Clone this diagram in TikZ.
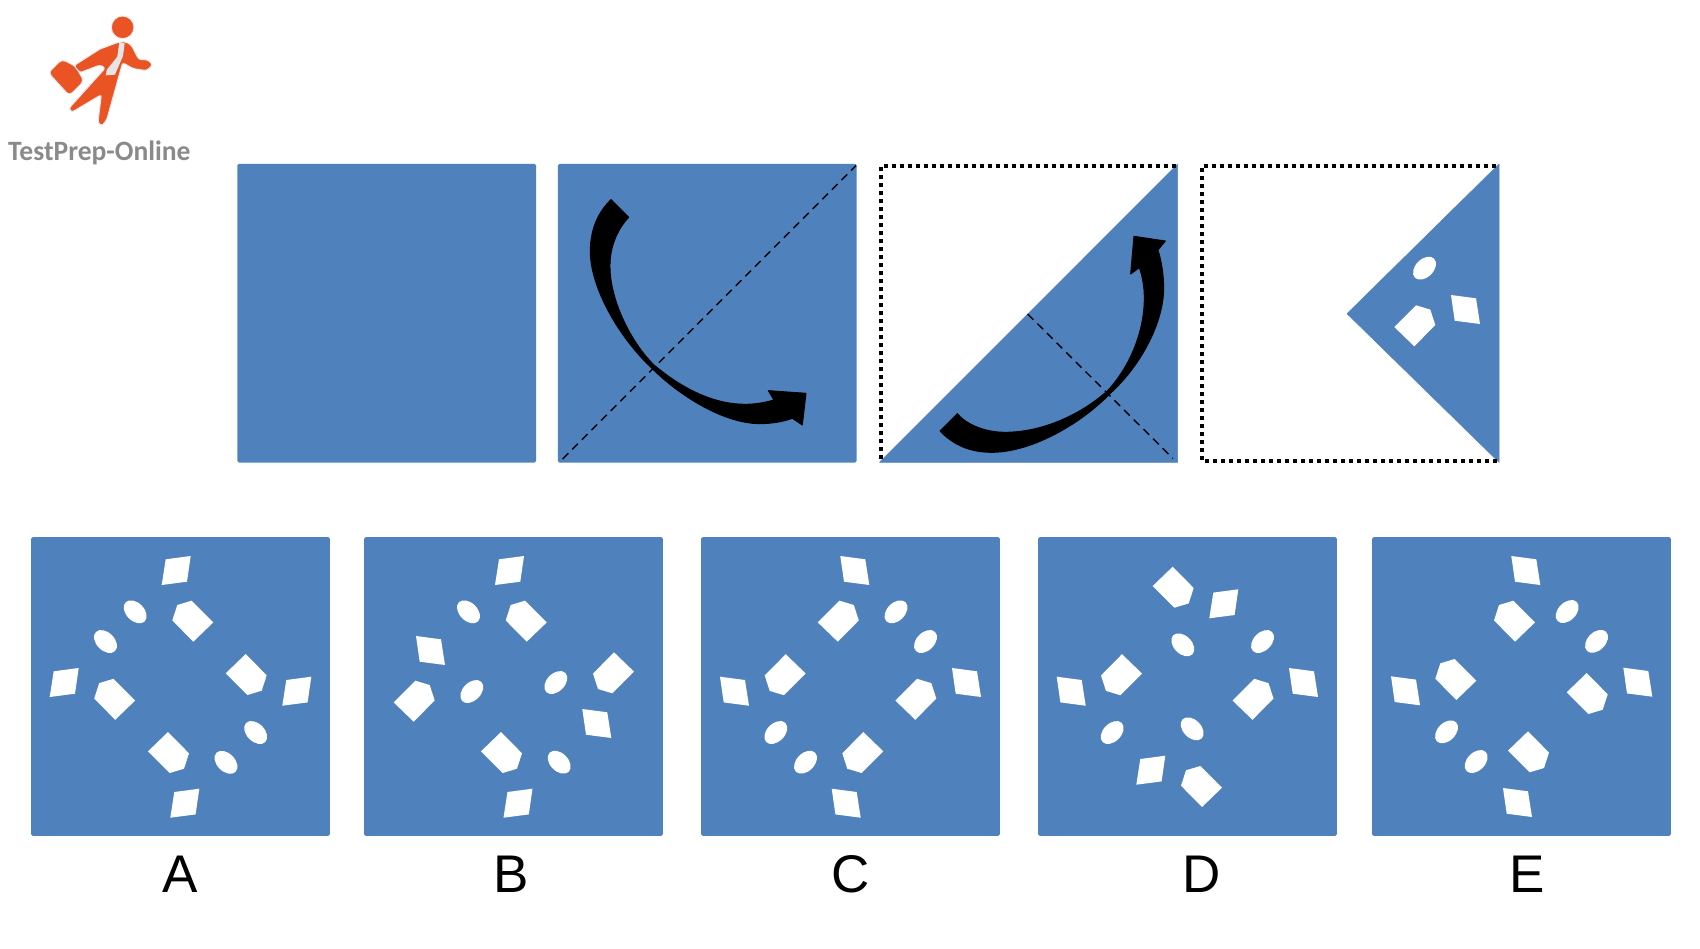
\documentclass[tikz,border=0pt]{standalone}
\usepackage{fontspec}
\usepackage{tikz}
\usetikzlibrary{positioning}
\setmainfont{Liberation Sans}
\newfontfamily\logofont[FakeStretch=0.985]{Carlito}
\definecolor{panelblue}{HTML}{4F81BD}
\definecolor{logored}{HTML}{EA5424}
\definecolor{logogray}{HTML}{8A8A8A}
\newcommand{\parafill}[1]{\fill[white,#1] (-10.5,-11.2) -- (14.5,-14.5) -- (10.8,11.2) -- (-14.5,14.5) -- cycle;}
\newcommand{\housefill}[1]{\fill[white,#1] (-15.5,-16.2) -- (-1.2,-20.5) -- (20.5,1.2) -- (0.5,20.5) -- (-20.5,-0.8) -- cycle;}
\newcommand{\eggfill}[1]{\fill[white,#1,rotate=-45] (0,0) ellipse [x radius=13.5pt, y radius=9pt];}
\tikzset{
    pics/para/.style={code={\parafill{}}},
    pics/parb/.style={code={\parafill{xscale=-1}}},
    pics/houseTL/.style={code={\housefill{}}},
    pics/houseTR/.style={code={\housefill{xscale=-1}}},
    pics/houseBL/.style={code={\housefill{yscale=-1}}},
    pics/houseBR/.style={code={\housefill{xscale=-1,yscale=-1}}},
    pics/egg/.style={code={\eggfill{}}},
    pics/eggb/.style={code={\eggfill{xscale=-1}}}
}

\begin{document}
\begin{tikzpicture}[
    x=1pt, y=-1pt,
    panel/.style={fill=panelblue, rounded corners=1.5pt, minimum size=298.7pt, inner sep=0pt},
    wedge/.style={fill=panelblue, draw=panelblue, line width=0.5pt, line join=round},
    dotbox/.style={line width=3.6pt, dash pattern=on 3.6pt off 4.4pt},
    fold/.style={line width=1.4pt, dash pattern=on 8pt off 5.6pt},
    bow/.style={fill=black, draw=black, line width=1pt, line join=round},
    optlabel/.style={anchor=base, inner sep=0pt, font=\fontsize{53}{60}\selectfont}
]
\useasboundingbox (0,0) rectangle (1700,948);

% logo
\begin{scope}[shift={(0,0)}, scale=0.3333]
\fill[logored, draw=black!8, line width=1pt] (368,82) circle (34);
\fill[logored, draw=black!8, line width=1pt, rounded corners=4pt] (145,218) -- (186,178) -- (226,198) -- (252,243) -- (208,287) -- cycle;
\fill[logored, draw=black!8, line width=1pt, rounded corners=2.5pt] (357,126) -- (300,147) -- (222,197) -- (240,218) -- (300,195) -- (316,204) -- (207,325) -- (215,337) -- (304,284) -- (294,368) -- (305,378) -- (320,360) -- (368,188) -- (400,206) -- (440,212) -- (458,195) -- (445,180) -- (416,178) -- (394,135) -- (376,125) -- cycle;
\fill[white!90!black] (358,126) -- (374,130) -- (369,168) -- (345,224) -- (318,226) -- (320,210) -- (352,170) -- cycle;
\end{scope}
\node[anchor=base west, inner sep=0pt, text=logogray, font=\logofont\bfseries\fontsize{28}{30}\selectfont] (brand) at (8,160) {TestPrep-Online};

% top row
\node[panel] (stepA) at (386.7,313.2) {};
\node[panel] (stepB) at (707.3,313.2) {};
\fill[wedge] (1177.7,164) -- (1177.7,462.3) -- (879.5,462.3) -- cycle;
\fill[wedge] (1499,164) -- (1347,313.7) -- (1499,462.3) -- cycle;
\draw[dotbox] (1176,166) -- (881,166) -- (881,460);
\draw[dotbox] (1496,166) -- (1202,166) -- (1202,460.7) -- (1497,460.7);

\coordinate (foldA) at (562.7,459);
\coordinate (foldB) at (856,165.7);
\coordinate (foldC) at (1027.7,314);
\coordinate (foldD) at (1172.7,458.3);
\draw[fold] (foldA) -- (foldB);
\draw[fold] (foldC) -- (foldD);

\begin{scope}[shift={(550,155)}, scale=0.3333]
\filldraw[bow] (183,134) .. controls (135,180) and (120,240) .. (121,295) .. controls (124,400) and (205,545) .. (304,638) .. controls (385,720) and (520,806) .. (630,806) .. controls (665,806) and (700,800) .. (727,790) -- (757,810) -- (768,715) -- (655,707) -- (672,735) .. controls (645,743) and (615,748) .. (585,748) .. controls (490,748) and (395,700) .. (312,630) .. controls (245,565) and (182,440) .. (180,340) .. controls (178,280) and (200,225) .. (236,187) -- cycle;
\end{scope}
\begin{scope}[shift={(870,155)}, scale=0.3333]
\filldraw[bow] (262,776) .. controls (285,805) and (340,832) .. (405,832) .. controls (510,832) and (625,785) .. (712,708) .. controls (780,635) and (823,530) .. (823,430) .. controls (823,395) and (818,365) .. (808,338) -- (782,357) -- (792,244) -- (886,258) -- (864,285) .. controls (875,320) and (881,360) .. (881,400) .. controls (881,500) and (815,630) .. (720,716) .. controls (640,800) and (490,892) .. (365,892) .. controls (300,892) and (250,870) .. (210,828) -- cycle;
\end{scope}

\foreach \px/\py/\kind in {1424.5/268.2/eggb, 1465.5/309.5/parb, 1414.8/325.8/houseTR}
    \pic at (\px,\py) {\kind};

% answer row
\node[panel] (optA) at (180.5,686.5) {};
\node[panel] (optB) at (513.5,686.5) {};
\node[panel] (optC) at (850.5,686.5) {};
\node[panel] (optD) at (1187.5,686.5) {};
\node[panel] (optE) at (1521.5,686.5) {};

\foreach \px/\py/\kind in {
    176.2/570.5/para, 64.2/682.5/para, 296.8/691.2/para, 184.8/803.2/para,
    192.8/621.2/houseTL, 114.7/699.3/houseTL, 246.2/674.5/houseBR, 168.5/752.5/houseBR,
    135.2/611.8/egg, 105.5/641.5/egg, 255.7/732.5/egg, 226/762.3/egg}
    \pic at (\px,\py) {\kind};

\foreach \px/\py/\kind in {
    509.5/570.5/para, 518/803.2/para, 430.5/650.5/parb, 596.8/723.5/parb,
    526.2/621.2/houseTL, 501.5/752.5/houseBR, 613.5/672.8/houseBL, 414.2/701.2/houseTR,
    468.5/611.8/egg, 559.2/762.2/egg, 471.8/691.5/eggb, 555.8/682.5/eggb}
    \pic at (\px,\py) {\kind};

\foreach \px/\py/\kind in {
    854.8/570.5/parb, 734.5/691.2/parb, 966.5/682.5/parb, 846.2/803.2/parb,
    838.3/621.2/houseTR, 785.2/674.7/houseBL, 915.8/699.3/houseTR, 862.8/752.5/houseBL,
    896/611.8/eggb, 925.5/641.5/eggb, 775.8/732.5/eggb, 805.5/762.2/eggb}
    \pic at (\px,\py) {\kind};

\foreach \px/\py/\kind in {
    1071.2/691.2/parb, 1303.5/682.5/parb, 1223.8/603.8/para, 1150.8/770.2/para,
    1173.2/587.2/houseBR, 1121.5/674.7/houseBL, 1253/699.3/houseTR, 1201.5/786.5/houseTL,
    1182.8/644.8/egg, 1192.2/728.8/egg, 1262.5/641.5/eggb, 1112.2/732.5/eggb}
    \pic at (\px,\py) {\kind};

\foreach \px/\py/\kind in {
    1525.8/570.5/parb, 1405.5/690.8/parb, 1637.8/682.2/parb, 1517.5/802.5/parb,
    1514.5/621.2/houseTL, 1455.8/679.5/houseTL, 1587.2/693.5/houseBR, 1528.5/751.8/houseBR,
    1567.2/611.5/eggb, 1596.5/641.3/eggb, 1446.5/731.8/eggb, 1476.2/761.5/eggb}
    \pic at (\px,\py) {\kind};

\node[optlabel] (labelA) at (179.7,892.7) {A};
\node[optlabel] (labelB) at (511,892.7) {B};
\node[optlabel] (labelC) at (850.5,892.7) {C};
\node[optlabel] (labelD) at (1201.5,892.7) {D};
\node[optlabel] (labelE) at (1527.5,892.7) {E};
\end{tikzpicture}
\end{document}
